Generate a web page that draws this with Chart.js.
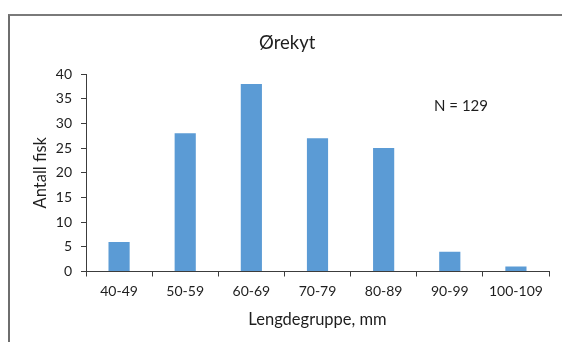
<!DOCTYPE html>
<html>

<head>
    <meta charset="utf-8">
    <title>Ørekyt - lengdefordeling</title>
    <style>
        body {
            margin: 0;
            background-color: white;
            font-family: Lato, sans-serif;
        }

        .frame {
            position: absolute;
            left: 8px;
            top: 14px;
            width: 600px;
            height: 400px;
            border-left: 2px solid #6e6e6e;
            border-top: 2px solid #7a7a7a;
        }

        .chart-container {
            position: absolute;
            left: 0;
            top: 0;
            width: 562px;
            height: 342px;
        }
    </style>
</head>

<body>
    <div class="frame"></div>
    <div class="chart-container">
        <canvas id="lengthChart"></canvas>
    </div>

    <script src="https://cdn.jsdelivr.net/npm/chart.js"></script>
    <script>
        // Length groups and fish counts
        const lengthGroups = ['40-49', '50-59', '60-69', '70-79', '80-89', '90-99', '100-109'];
        const fishCounts = [6, 28, 38, 27, 25, 4, 1];
        const yTicks = [0, 5, 10, 15, 20, 25, 30, 35, 40];

        const chartTitle = 'Ørekyt';
        const sampleLabel = 'N = 129';

        const textColor = '#1e1e1e';
        const axisColor = '#3c3c3c';

        // Title and the N label drawn on top of the chart
        const textPlugin = {
            id: 'textPlugin',
            afterDraw(chart) {
                const ctx = chart.ctx;
                ctx.save();
                ctx.fillStyle = textColor;
                ctx.textBaseline = 'middle';
                ctx.textAlign = 'center';
                ctx.font = '18.5px Lato';
                ctx.fillText(chartTitle, chart.width * 0.511, 43);

                const x = chart.scales.x.getPixelForValue(5.17);
                const y = chart.scales.y.getPixelForValue(33.5);
                ctx.font = '15px Lato';
                ctx.fillText(sampleLabel, x, y);
                ctx.restore();
            }
        };

        const ctx = document.getElementById('lengthChart').getContext('2d');
        const lengthChart = new Chart(ctx, {
            type: 'bar',
            data: {
                labels: lengthGroups,
                datasets: [{
                    data: fishCounts,
                    backgroundColor: '#5b9bd5',
                    categoryPercentage: 1.0,
                    barPercentage: 0.32
                }]
            },
            options: {
                responsive: true,
                maintainAspectRatio: false,
                animation: false,
                layout: {
                    padding: { top: 74, right: 13, bottom: 0, left: 0 }
                },
                plugins: {
                    legend: { display: false },
                    tooltip: { enabled: false }
                },
                scales: {
                    x: {
                        grid: {
                            drawOnChartArea: false,
                            tickLength: 5,
                            tickColor: axisColor
                        },
                        border: { color: axisColor, width: 1 },
                        ticks: {
                            color: textColor,
                            font: { family: 'Lato', size: 14 },
                            padding: 7,
                            maxRotation: 0
                        },
                        title: {
                            display: true,
                            text: 'Lengdegruppe, mm',
                            color: textColor,
                            font: { family: 'Lato', size: 16.5 },
                            padding: { top: 0, bottom: 12 }
                        },
                        afterFit(scale) {
                            scale.height = 70.5;
                        }
                    },
                    y: {
                        min: 0,
                        max: 40,
                        afterBuildTicks(scale) {
                            scale.ticks = yTicks.map(v => ({ value: v }));
                        },
                        grid: {
                            drawOnChartArea: false,
                            tickLength: 5,
                            tickColor: axisColor
                        },
                        border: { color: axisColor, width: 1 },
                        ticks: {
                            color: textColor,
                            font: { family: 'Lato', size: 14 },
                            padding: 9
                        },
                        title: {
                            display: true,
                            text: 'Antall fisk',
                            color: textColor,
                            font: { family: 'Lato', size: 16.5 },
                            padding: { top: 31, bottom: 0 }
                        },
                        afterFit(scale) {
                            scale.width = 86;
                        }
                    }
                }
            },
            plugins: [textPlugin]
        });
    </script>
</body>

</html>
